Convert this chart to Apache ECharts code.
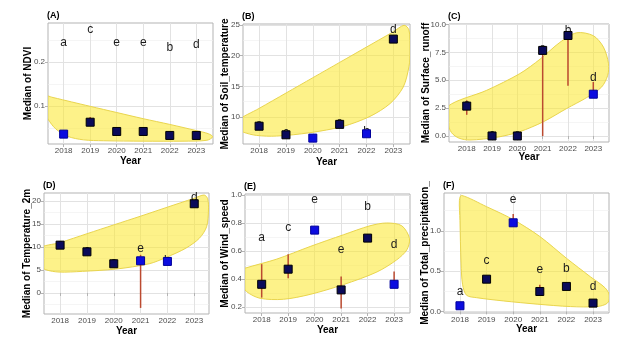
<!DOCTYPE html>
<html><head><meta charset="utf-8">
<script src="https://cdn.jsdelivr.net/npm/echarts@6/dist/echarts.min.js"></script>
<style>html,body{margin:0;padding:0;background:#fff}#c{width:631px;height:345px}</style>
</head><body><div id="c"></div>
<script>
// ---------------- DATA ----------------
const years = [2018, 2019, 2020, 2021, 2022, 2023];
const letters = ['a', 'c', 'e', 'e', 'b', 'd'];

// (A) NDVI
const ndviMedian = [0.036, 0.063, 0.042, 0.042, 0.033, 0.033];
const ndviLow    = [null, 0.058, null, null, null, 0.030];
const ndviHigh   = [null, 0.075, null, null, null, 0.041];
const ndviLetterY = [0.243, 0.273, 0.243, 0.243, 0.233, 0.238];
const ndviBlue   = [1, 0, 0, 0, 0, 0];
const ndviTicks  = [0.1, 0.2];
const ndviMinor  = [0.05, 0.15, 0.25];
const ndviHull = [[2019.0,0.099],[2020.0,0.085],[2021.0,0.071],[2022.0,0.058],[2023.0,0.044],[2023.45,0.037],[2023.62,0.030],[2023.4,0.022],[2022.5,0.020],[2021.0,0.020],[2019.5,0.021],[2018.75,0.023],[2018.15,0.031],[2017.7,0.048],[2017.41,0.070],[2017.2,0.095],[2017.2,0.124],[2017.6,0.119],[2018.3,0.109]];

// (B) Soil temperature
const soilMedian = [8.5, 7.1, 6.56, 8.8, 7.27, 22.7];
const soilLow    = [null, null, null, null, null, null];
const soilHigh   = [null, null, null, null, null, null];
const soilLetterY = [8.8, 7.4, 6.5, 9.0, 7.55, 24.2];
const soilBlue   = [0, 0, 1, 0, 1, 0];
const soilTicks  = [10, 15, 20, 25];
const soilMinor  = [7.5, 12.5, 17.5, 22.5];
const soilHull = [[2019,13.9],[2020,16.4],[2021,18.9],[2022,21.4],[2023,23.9],[2023.4,24.95],[2023.58,24.2],[2023.63,20.9],[2023.58,18.2],[2023.37,14.9],[2022.88,12.2],[2022.13,10.1],[2021.13,8.47],[2019.89,7.44],[2018.65,6.89],[2017.9,7.0],[2017.4,7.55],[2017.2,8.2],[2017.2,9.4],[2018,11.4]];

// (C) Surface runoff
const runoffMedian = [2.68, 0.0, 0.0, 7.68, 9.02, 3.75];
const runoffLow    = [1.9, null, null, 0.0, 4.5, 3.75];
const runoffHigh   = [3.2, null, null, 7.68, 9.02, 4.85];
const runoffLetterY = [2.85, 0.1, 0.1, 7.8, 9.46, 5.2];
const runoffBlue   = [0, 0, 0, 0, 0, 1];
const runoffTicks  = [0, 2.5, 5, 7.5, 10];
const runoffMinor  = [1.25, 3.75, 6.25, 8.75];
const runoffHull = [[2018.79,4.1],[2020.1,5.6],[2020.9,6.9],[2021.68,8.4],[2022.34,9.26],[2023.0,9.0],[2023.4,7.98],[2023.6,6.5],[2023.57,5.45],[2023.33,4.4],[2022.74,3.45],[2021.95,2.47],[2021.03,1.28],[2020.1,0.39],[2019.18,-0.12],[2018.13,-0.36],[2017.7,-0.2],[2017.4,0.3],[2017.25,1.2],[2017.25,2.65]];

// (D) Temperature 2m
const tempMedian = [10.4, 8.95, 6.35, 7.0, 6.86, 19.4];
const tempLow    = [null, null, null, -3.25, null, null];
const tempHigh   = [null, null, null, 8.3, null, null];
const tempLetterY = [10.6, 9.1, 6.5, 9.63, 7.0, 20.7];
const tempBlue   = [0, 0, 0, 1, 1, 0];
const tempTicks  = [0, 5, 10, 15, 20];
const tempMinor  = [-2.5, 2.5, 7.5, 12.5, 17.5];
const tempHull = [[2019,12.88],[2020,14.8],[2021,16.7],[2022,18.66],[2023,20.6],[2023.37,21.3],[2023.5,20.5],[2023.53,18.05],[2023.46,14.4],[2023.19,11.9],[2022.69,9.75],[2021.94,7.7],[2021.32,6.35],[2020.08,5.2],[2018.83,4.7],[2017.96,4.55],[2017.47,5.05],[2017.25,6.0],[2017.2,9.6],[2018,10.95]];

// (E) Wind speed
const windMedian = [0.362, 0.47, 0.749, 0.322, 0.692, 0.362];
const windLow    = [0.267, 0.405, null, 0.19, 0.68, 0.362];
const windHigh   = [0.506, 0.577, null, 0.417, 0.72, 0.453];
const windLetterY = [0.695, 0.767, 0.965, 0.607, 0.918, 0.642];
const windBlue   = [0, 0, 1, 0, 0, 1];
const windTicks  = [0.2, 0.4, 0.6, 0.8, 1.0];
const windMinor  = [0.3, 0.5, 0.7, 0.9];
const windHull = [[2018.57,0.542],[2019.83,0.632],[2021.09,0.716],[2022.09,0.78],[2022.72,0.80],[2023.29,0.78],[2023.58,0.69],[2023.48,0.608],[2023.1,0.537],[2022.35,0.45],[2021.09,0.36],[2019.83,0.29],[2018.82,0.255],[2017.94,0.262],[2017.43,0.31],[2017.2,0.38],[2017.2,0.46],[2017.37,0.477]];

// (F) Total precipitation
const precipMedian = [0.07, 0.40, 1.10, 0.247, 0.31, 0.103];
const precipLow    = [null, null, 1.10, 0.247, null, null];
const precipHigh   = [null, null, 1.21, 0.33, null, null];
const precipLetterY = [0.247, 0.63, 1.387, 0.52, 0.527, 0.31];
const precipBlue   = [1, 0, 1, 0, 0, 0];
const precipTicks  = [0, 0.5, 1.0];
const precipMinor  = [0.25, 0.75, 1.25];
const precipHull = [[2019.0,1.30],[2020.0,1.14],[2021.0,0.93],[2022.0,0.66],[2022.9,0.43],[2023.46,0.29],[2023.63,0.185],[2023.53,0.10],[2023.15,0.06],[2022.15,0.06],[2020.9,0.09],[2019.63,0.13],[2018.63,0.17],[2018.25,0.2],[2018.1,0.33],[2018.04,0.6],[2018.0,1.13],[2017.98,1.38],[2018.06,1.44]];

// ---------------- LAYOUT ----------------
const FONT = '"Liberation Sans", Arial, sans-serif';
const panels = [
  {label:'(A)', yName:'Median of NDVI', median:ndviMedian, low:ndviLow, high:ndviHigh, letterY:ndviLetterY, blue:ndviBlue, ticks:ndviTicks, minor:ndviMinor, hull:ndviHull, digits:1,
   grid:{left:48, top:23, width:165, height:121}, x:[2017.41, 2023.63], y:[0.0136, 0.288], yGap:15, xGap:12},
  {label:'(B)', yName:'Median of Soil_temperature', median:soilMedian, low:soilLow, high:soilHigh, letterY:soilLetterY, blue:soilBlue, ticks:soilTicks, minor:soilMinor, hull:soilHull, digits:0,
   grid:{left:243, top:24, width:167, height:120}, x:[2017.4, 2023.62], y:[5.6, 25.16], yGap:13, xGap:13},
  {label:'(C)', yName:'Median of Surface_runoff', median:runoffMedian, low:runoffLow, high:runoffHigh, letterY:runoffLetterY, blue:runoffBlue, ticks:runoffTicks, minor:runoffMinor, hull:runoffHull, digits:1,
   grid:{left:449, top:24, width:160, height:118}, x:[2017.3, 2023.62], y:[-0.54, 10.05], yGap:18, xGap:10},
  {label:'(D)', yName:'Median of Temperature_2m', median:tempMedian, low:tempLow, high:tempHigh, letterY:tempLetterY, blue:tempBlue, ticks:tempTicks, minor:tempMinor, hull:tempHull, digits:0,
   grid:{left:44, top:193, width:165, height:121}, x:[2017.4, 2023.55], y:[-4.57, 21.74], yGap:12, xGap:12},
  {label:'(E)', yName:'Median of Wind_speed', median:windMedian, low:windLow, high:windHigh, letterY:windLetterY, blue:windBlue, ticks:windTicks, minor:windMinor, hull:windHull, digits:1,
   grid:{left:245, top:194, width:165, height:119}, x:[2017.37, 2023.6], y:[0.157, 1.007], yGap:15, xGap:12},
  {label:'(F)', yName:'Median of Total_precipitation_', median:precipMedian, low:precipLow, high:precipHigh, letterY:precipLetterY, blue:precipBlue, ticks:precipTicks, minor:precipMinor, hull:precipHull, digits:1,
   grid:{left:444, top:193, width:165, height:120}, x:[2017.4, 2023.6], y:[-0.02, 1.47], yGap:14, xGap:11}
];

const grids = [], xAxes = [], yAxes = [], series = [], titles = [];
panels.forEach((p, i) => {
  grids.push(Object.assign({show:true, borderColor:'#b3b3b3', borderWidth:1, backgroundColor:'#fff', containLabel:false}, p.grid));
  titles.push({text:p.label, left:p.grid.left - 1, top:p.grid.top - 12, padding:0,
    textStyle:{fontSize:9, fontWeight:'bold', color:'#000', fontFamily:FONT}});
  xAxes.push({type:'value', gridIndex:i, min:p.x[0], max:p.x[1],
    axisLine:{show:false},
    axisTick:{show:true, customValues:years, length:3, lineStyle:{color:'#b3b3b3'}},
    axisLabel:{customValues:years, fontSize:8, color:'#4d4d4d', margin:3, fontFamily:FONT, formatter:v=>String(v)},
    splitLine:{show:true, lineStyle:{color:'#e2e2e2', width:1}},
    name:'Year', nameLocation:'middle', nameGap:p.xGap, nameMoveOverlap:false,
    nameTextStyle:{fontSize:10, fontWeight:'bold', color:'#000', fontFamily:FONT}});
  yAxes.push({type:'value', gridIndex:i, min:p.y[0], max:p.y[1],
    axisLine:{show:false},
    axisTick:{show:true, customValues:p.ticks, length:3, lineStyle:{color:'#b3b3b3'}},
    axisLabel:{customValues:p.ticks, fontSize:8, color:'#4d4d4d', margin:3, fontFamily:FONT, formatter:v=>Number(v).toFixed(p.digits)},
    splitLine:{show:true, lineStyle:{color:'#e2e2e2', width:1}},
    name:p.yName, nameLocation:'middle', nameRotate:90, nameGap:p.yGap, nameMoveOverlap:false,
    nameTextStyle:{fontSize:10, fontWeight:'bold', color:'#000', fontFamily:FONT}});
  yAxes.push({type:'value', gridIndex:i, min:p.y[0], max:p.y[1], position:'left',
    axisLine:{show:false}, axisLabel:{show:false},
    axisTick:{show:false, customValues:p.minor},
    splitLine:{show:true, lineStyle:{color:'#eeeeee', width:0.6}}});
  const yi = 2 * i;
  // hull
  series.push({type:'custom', xAxisIndex:i, yAxisIndex:yi, z:1, silent:true, clip:true,
    data:p.hull,
    renderItem:(params, api) => {
      if (params.dataIndex !== 0) return null;
      const cs = params.coordSys;
      const pts = p.hull.map(d => api.coord(d));
      return {type:'polygon', shape:{points:pts, smooth:0.3},
        style:{fill:'rgba(252,232,40,0.55)', stroke:'#e9d54e', lineWidth:1},
        clipPath:{type:'rect', shape:{x:cs.x, y:cs.y, width:cs.width, height:cs.height}}};
    }});
  // error bars
  const bars = [];
  years.forEach((yr, k) => { if (p.low[k] != null) bars.push([yr, p.low[k], p.high[k]]); });
  series.push({type:'custom', xAxisIndex:i, yAxisIndex:yi, z:2, silent:true, data:bars,
    renderItem:(params, api) => {
      const a = api.coord([api.value(0), api.value(1)]);
      const b = api.coord([api.value(0), api.value(2)]);
      return {type:'line', shape:{x1:a[0], y1:a[1], x2:b[0], y2:b[1]},
        style:{stroke:'#bb4a30', lineWidth:1.5}};
    }});
  // letters
  series.push({type:'custom', xAxisIndex:i, yAxisIndex:yi, z:3, silent:true,
    data:years.map((yr, k) => [yr, p.letterY[k]]),
    renderItem:(params, api) => {
      const c = api.coord([api.value(0), api.value(1)]);
      return {type:'text', x:c[0], y:c[1],
        style:{text:letters[params.dataIndex], fill:'#1a1a1a', font:'12px ' + FONT, align:'center', verticalAlign:'middle'}};
    }});
  // median squares
  series.push({type:'scatter', xAxisIndex:i, yAxisIndex:yi, z:4, symbol:'rect', symbolSize:8, silent:true,
    data:years.map((yr, k) => ({value:[yr, p.median[k]],
      itemStyle: p.blue[k] ? {color:'#0c0ce0', borderColor:'#00009a', borderWidth:1, opacity:1}
                           : {color:'#0a0a5a', borderColor:'#000', borderWidth:1, opacity:1}}))});
});

const chart = echarts.init(document.getElementById('c'), null, {renderer:'canvas'});
chart.setOption({
  animation:false,
  backgroundColor:'#fff',
  textStyle:{fontFamily:FONT},
  title:titles, grid:grids, xAxis:xAxes, yAxis:yAxes, series:series
});
</script></body></html>
